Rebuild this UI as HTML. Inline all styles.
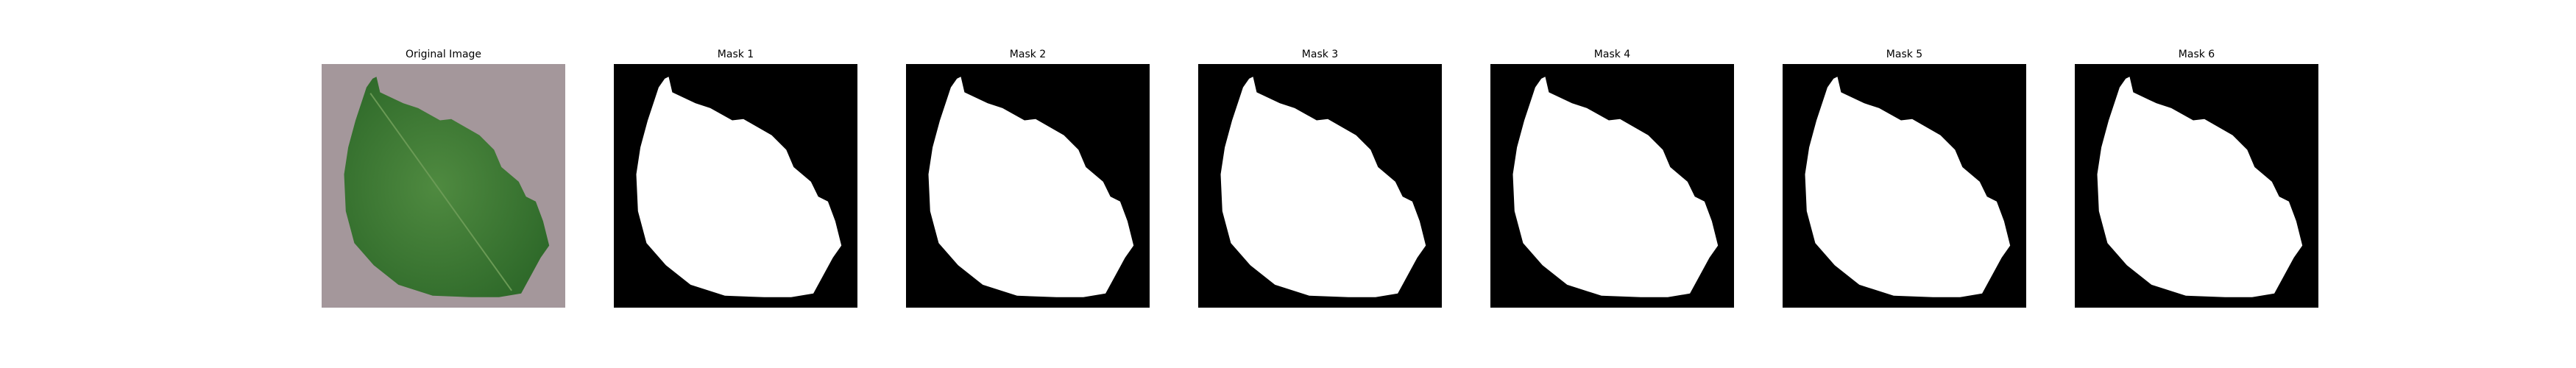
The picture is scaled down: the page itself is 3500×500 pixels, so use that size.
<!DOCTYPE html>
<html><head><meta charset="utf-8">
<style>
html,body{margin:0;padding:0;background:#fff;}
svg{display:block;}
text{font-family:"DejaVu Sans","Liberation Sans",sans-serif;font-size:14px;fill:#000;}
</style></head>
<body>
<svg id="fig" width="3500" height="500" viewBox="0 0 3500 500">
<defs>
<radialGradient id="leafg" cx="0.45" cy="0.5" r="0.6">
<stop offset="0" stop-color="#4f8a40"/><stop offset="1" stop-color="#2f6a2a"/>
</radialGradient>
</defs>
<g id="panels"></g>
</svg>
<script>
const titles = ["Original Image","Mask 1","Mask 2","Mask 3","Mask 4","Mask 5","Mask 6"];
const leafX = [0.225,0.24,0.335,0.396,0.486,0.532,0.648,0.708,0.738,0.809,0.839,0.879,0.909,0.934,0.899,0.819,0.728,0.617,0.456,0.315,0.214,0.134,0.099,0.092,0.109,0.139,0.184,0.209];
const leafY = [0.052,0.116,0.161,0.181,0.231,0.226,0.292,0.352,0.423,0.483,0.544,0.564,0.645,0.745,0.795,0.942,0.957,0.957,0.951,0.906,0.826,0.735,0.604,0.453,0.342,0.232,0.096,0.060];
const ns = "http://www.w3.org/2000/svg";
const g = document.getElementById("panels");
const x0 = 437, step = 397, size = 331, y0 = 87;
function pts(px, py){
  return leafX.map((v,i)=>(px+v*size).toFixed(1)+","+(py+leafY[i]*size).toFixed(1)).join(" ");
}
titles.forEach((t,i)=>{
  const px = x0 + i*step;
  const grp = document.createElementNS(ns,"g");
  
  
  const tt = document.createElementNS(ns,"text");
  tt.setAttribute("x", px+size/2); tt.setAttribute("y", 78);
  tt.setAttribute("text-anchor","middle");
  tt.textContent = t;
  
  
  grp.appendChild(tt);
  const r = document.createElementNS(ns,"rect");
  r.setAttribute("x",px); r.setAttribute("y",y0);
  r.setAttribute("width",size); r.setAttribute("height",size);
  r.setAttribute("fill", i===0 ? "#a4979b" : "#000");
  
  
  grp.appendChild(r);
  const p = document.createElementNS(ns,"polygon");
  p.setAttribute("points", pts(px,y0));
  p.setAttribute("fill", i===0 ? "url(#leafg)" : "#fff");
  
  
  grp.appendChild(p);
  if(i===0){
    const l = document.createElementNS(ns,"line");
    l.setAttribute("x1",px+0.2*size); l.setAttribute("y1",y0+0.12*size);
    l.setAttribute("x2",px+0.78*size); l.setAttribute("y2",y0+0.93*size);
    l.setAttribute("stroke","#6a9a55"); l.setAttribute("stroke-width","2");
    
    
    grp.appendChild(l);
  }
  g.appendChild(grp);
});
</script>
</body></html>
